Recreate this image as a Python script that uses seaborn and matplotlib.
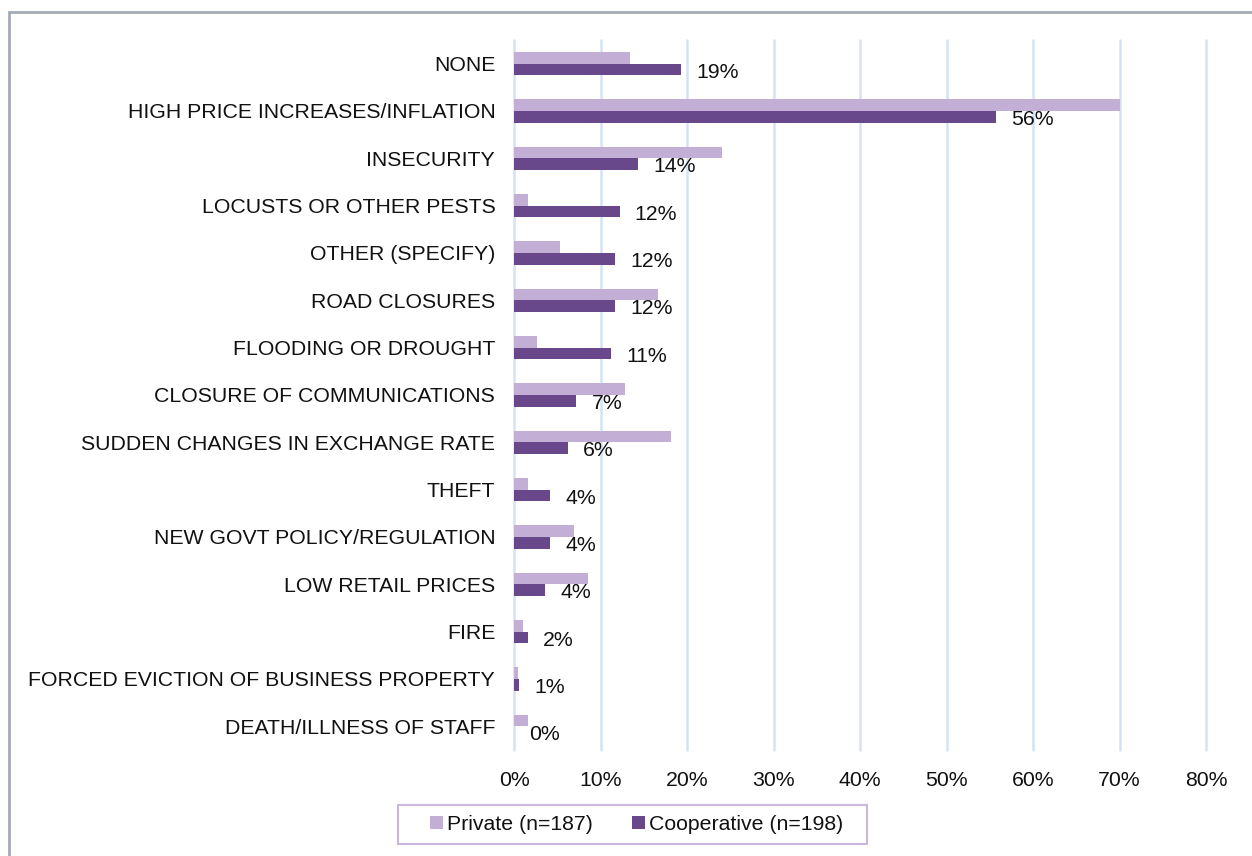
import matplotlib
matplotlib.use("Agg")
import matplotlib.pyplot as plt
from matplotlib.patches import Rectangle
import pandas as pd
import seaborn as sns

categories = [
    "NONE",
    "HIGH PRICE INCREASES/INFLATION",
    "INSECURITY",
    "LOCUSTS OR OTHER PESTS",
    "OTHER (SPECIFY)",
    "ROAD CLOSURES",
    "FLOODING OR DROUGHT",
    "CLOSURE OF COMMUNICATIONS",
    "SUDDEN CHANGES IN EXCHANGE RATE",
    "THEFT",
    "NEW GOVT POLICY/REGULATION",
    "LOW RETAIL PRICES",
    "FIRE",
    "FORCED EVICTION OF BUSINESS PROPERTY",
    "DEATH/ILLNESS OF STAFF",
]
private = [13.4, 70.0, 24.1, 1.6, 5.3, 16.6, 2.7, 12.8, 18.2, 1.6, 6.9, 8.6, 1.0, 0.5, 1.6]
cooperative = [19.3, 55.7, 14.3, 12.2, 11.7, 11.7, 11.2, 7.2, 6.2, 4.2, 4.2, 3.6, 1.6, 0.6, 0.0]
series_names = ["Private (n=187)", "Cooperative (n=198)"]
x_ticks = [0, 10, 20, 30, 40, 50, 60, 70, 80]

df = pd.DataFrame({
    "category": categories * 2,
    "share": private + cooperative,
    "group": [series_names[0]] * len(categories) + [series_names[1]] * len(categories),
})

sns.set_theme(style="white")
plt.rcParams["font.family"] = ["Liberation Sans", "DejaVu Sans"]
FS = 15.3
W, H = 1252, 856

fig = plt.figure(figsize=(W / 100, H / 100), dpi=100)
ax = fig.add_axes([514 / W, 1 - 750 / H, 692 / W, 710 / H])

palette = {series_names[0]: "#C3AED6", series_names[1]: "#68488A"}
sns.barplot(data=df, y="category", x="share", hue="group", order=categories,
            hue_order=series_names, palette=palette, orient="h", width=0.49,
            linewidth=0, saturation=1, ax=ax, legend=True)

ax.set_xlim(0, 80)
ax.set_ylim(len(categories) - 0.5, -0.5)
ax.set_xticks(x_ticks)
ax.set_xticklabels([f"{t}%" for t in x_ticks])
ax.set_xlabel("")
ax.set_ylabel("")
ax.grid(axis="x", color="#D6E2F4", linewidth=1.8)
ax.grid(axis="y", visible=False)
ax.set_axisbelow(True)
for gl in ax.get_xgridlines():
    gl.set_clip_on(False)
for s in ax.spines.values():
    s.set_visible(False)
ax.tick_params(axis="y", length=0, pad=13.5, labelsize=FS, colors="#111111")
ax.tick_params(axis="x", length=0, pad=15, labelsize=FS, colors="#111111")

# value labels for the cooperative series
coop_bars = ax.containers[1]
for patch, val in zip(coop_bars.patches, cooperative):
    yc = patch.get_y() + patch.get_height() / 2
    ax.annotate(f"{val:.0f}%", xy=(patch.get_width(), yc), xytext=(11, -2),
                textcoords="offset points", ha="left", va="center",
                fontsize=FS, color="#111111")

# legend below the plot, inside a wide square box
handles, labels = ax.get_legend_handles_labels()
ax.get_legend().remove()
leg = fig.legend(handles, labels, loc="center", bbox_to_anchor=(637 / W, 1 - 824.5 / H),
                 ncol=2, frameon=False, fontsize=FS,
                 handlelength=0.6, handleheight=0.6, handletextpad=0.2,
                 columnspacing=1.83, borderpad=0.3, borderaxespad=0)
for t in leg.get_texts():
    t.set_color("#111111")
fig.patches.append(Rectangle((398 / W, 1 - 844 / H), (867 - 398) / W, 39 / H,
                             transform=fig.transFigure, fill=False,
                             edgecolor="#C9B8DC", linewidth=1.5))

# outer chart border
fig.patches.append(Rectangle((9 / W, -0.2), 1.2, 1.2 - 11.5 / H, transform=fig.transFigure,
                             fill=False, edgecolor="#A3ABB3", linewidth=2.0, clip_on=False))

fig.savefig("out.png", dpi=100)
